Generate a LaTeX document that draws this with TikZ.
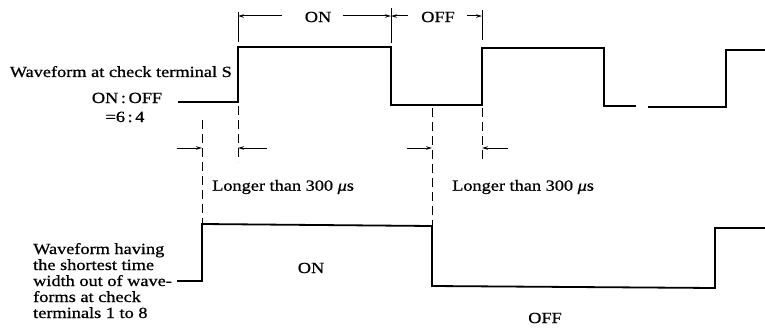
\documentclass[tikz,border=0pt]{standalone}
\usepackage{fontspec}
\setmainfont[FakeStretch=1.18,FakeBold=0.8]{Liberation Serif}
\usetikzlibrary{arrows.meta}
\begin{document}
\begin{tikzpicture}[x=1pt,y=-1pt,
  wave/.style={line width=1.8pt,line join=miter},
  dim/.style={line width=1pt},
  tick/.style={line width=1pt},
  guide/.style={line width=1pt,dash pattern=on 9pt off 5pt},
  arr/.style={-{Stealth[length=6pt,width=3.5pt]}},
  lbl/.style={inner sep=0pt,font=\fontsize{15.5}{16}\selectfont}]
\useasboundingbox (0,0) rectangle (765,329);
% top waveform
\draw[wave] (178,102) -- (238,102) -- (238,47) -- (391,47) -- (391,105)
  -- (482,105) -- (482,48) -- (604,48) -- (604,106) -- (636,106);
\draw[wave] (648,107) -- (726,107) -- (726,50) -- (765,50);
% bottom waveform
\draw[wave] (177,281) -- (202,281) -- (202,224) -- (432,226) -- (432,286)
  -- (715,288) -- (715,228) -- (765,228);
% top dimension ticks
\coordinate (t1a) at (238,12); \coordinate (t1b) at (238,42);
\coordinate (t2a) at (391,8);  \coordinate (t2b) at (391,43);
\coordinate (t3a) at (482,10); \coordinate (t3b) at (482,40);
\draw[tick] (t1a) -- (t1b);
\draw[tick] (t2a) -- (t2b);
\draw[tick] (t3a) -- (t3b);
\node[lbl] (on1) at (318,17) {ON};
\node[lbl] (off1) at (438,17) {OFF};
\coordinate (d1) at (238,16); \coordinate (d2) at (391,16); \coordinate (d3) at (482,16);
\draw[dim,arr] (282,16) -- (d1);
\draw[dim,arr] (343,16) -- (d2);
\draw[dim,arr] (408,16) -- (d2);
\draw[dim,arr] (467,16) -- (d3);
% dashed guides
\draw[guide] (202,120) -- (202,224);
\draw[guide] (238,106) -- (238,162);
\draw[guide] (432,108) -- (432,226);
\draw[guide] (482,108) -- (482,162);
% lower dimension arrows
\coordinate (g1) at (202,148); \coordinate (g2) at (238,148);
\coordinate (g3) at (432,148); \coordinate (g4) at (482,148);
\draw[dim,arr] (177,148) -- (g1);
\draw[dim,arr] (267,148) -- (g2);
\draw[dim,arr] (407,148) -- (g3);
\draw[dim,arr] (508,148) -- (g4);
\node[lbl,anchor=west] (l1) at (212,187) {Longer than 300 \textit{μ}s};
\node[lbl,anchor=west] (l2) at (452,187) {Longer than 300 \textit{μ}s};
% labels
\node[lbl,anchor=base east] (s1) at (232,77) {Waveform at check terminal S};
\node[lbl,anchor=base] (s2) at (127,103) {ON\,:\,OFF};
\node[lbl,anchor=base] (s3) at (125,122) {=6\,:\,4};
\node[lbl,anchor=base west] (bm) at (33,254) {Waveform having};
\node[lbl,anchor=base west] (b0) at (33,270) {the shortest time};
\node[lbl,anchor=base west] (b1) at (33,286) {width out of wave-};
\node[lbl,anchor=base west] (b2) at (33,302) {forms at check};
\node[lbl,anchor=base west] (b3) at (33,318) {terminals 1 to 8};
\node[lbl] (on2) at (311,268) {ON};
\node[lbl] (off2) at (545,318) {OFF};
\end{tikzpicture}
\end{document}
